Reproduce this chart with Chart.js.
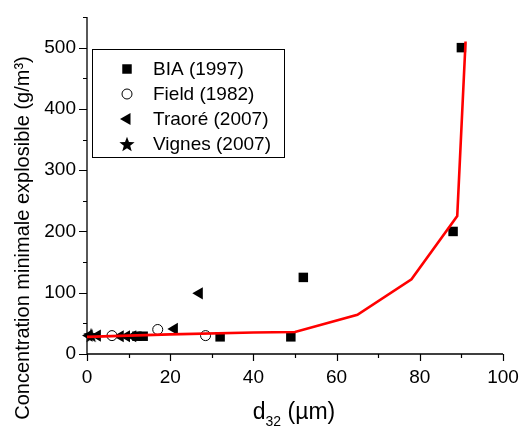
<!DOCTYPE html>
<html>
<head>
<meta charset="utf-8">
<script src="https://cdn.jsdelivr.net/npm/chart.js@4/dist/chart.umd.min.js"></script>
<style>
  html, body { margin: 0; padding: 0; background: #fff; }
  #c { display: block; }
</style>
</head>
<body>
<canvas id="c" width="521" height="432"></canvas>
<script>
"use strict";

// valeurs
const biaX = [12, 13.5, 32, 49, 52, 88, 90];
const biaY = [29, 29, 28, 28, 125, 200, 500];
const fieldX = [6, 17, 28.5];
const fieldY = [30, 40, 30];
const traoreX = [0.5, 2.5, 8, 9.5, 11, 21, 27];
const traoreY = [30, 30, 29, 29, 29, 41, 99];
const vignesX = [1];
const vignesY = [31];
// courbe modèle (rouge)
const modelX = [0, 20, 40, 50, 65, 78, 89, 91];
const modelY = [28, 32, 35, 36, 64, 122, 225, 510];

const seriesNames = ["BIA (1997)", "Field (1982)", "Traoré (2007)", "Vignes (2007)"];
const xTicks = [0, 20, 40, 60, 80, 100];
const yTicks = [0, 100, 200, 300, 400, 500];

const FONT = "'Liberation Sans', Arial, sans-serif";

const pts = (xs, ys) => xs.map((x, i) => ({ x, y: ys[i] }));

// étoile pleine pour Vignes
function makeStar(size) {
  const c = document.createElement("canvas");
  c.width = size; c.height = size;
  const g = c.getContext("2d");
  const cx = size / 2, cy = size / 2 + 0.8;
  const R = size / 2, r = R * 0.42;
  g.beginPath();
  for (let i = 0; i < 10; i++) {
    const rad = i % 2 ? r : R;
    const a = -Math.PI / 2 + (i * Math.PI) / 5;
    g.lineTo(cx + rad * Math.cos(a), cy + rad * Math.sin(a));
  }
  g.closePath();
  g.fillStyle = "#000";
  g.fill();
  return c;
}
const star = makeStar(16);

const markerStyles = [
  { pointStyle: "rect", radius: 6.7, rotation: 0, fill: "#000", stroke: "#000", borderWidth: 0 },
  { pointStyle: "circle", radius: 5, rotation: 0, fill: "#fff", stroke: "#000", borderWidth: 1 },
  { pointStyle: "triangle", radius: 7, rotation: -90, fill: "#000", stroke: "#000", borderWidth: 0 },
  { pointStyle: star, radius: 8, rotation: 0, fill: "#000", stroke: "#000", borderWidth: 0 },
];

function scatterSet(label, data, st) {
  return {
    label,
    data,
    showLine: false,
    pointStyle: st.pointStyle,
    pointRadius: st.radius,
    pointRotation: st.rotation,
    pointBackgroundColor: st.fill,
    pointBorderColor: st.stroke,
    pointBorderWidth: st.borderWidth,
    pointHoverRadius: st.radius,
    clip: false,
  };
}

// axes, graduations, titres et légende dessinés à la main
const decorPlugin = {
  id: "decor",
  beforeDatasetsDraw(chart) {
    const { ctx, chartArea: a, scales: { x, y } } = chart;
    ctx.save();
    ctx.strokeStyle = "#000";
    ctx.lineWidth = 1.3;
    ctx.beginPath();
    ctx.moveTo(a.left, a.top);
    ctx.lineTo(a.left, a.bottom);
    ctx.lineTo(a.right, a.bottom);
    ctx.stroke();

    ctx.lineWidth = 1.2;
    ctx.beginPath();
    for (const t of y.ticks) {
      const py = Math.round(y.getPixelForValue(t.value)) + 0.5;
      const len = t.value % 100 === 0 ? 8 : 4;
      ctx.moveTo(a.left - len, py);
      ctx.lineTo(a.left, py);
    }
    for (const t of x.ticks) {
      const px = Math.round(x.getPixelForValue(t.value)) + 0.5;
      const len = t.value % 20 === 0 ? 7 : 4;
      ctx.moveTo(px, a.bottom);
      ctx.lineTo(px, a.bottom + len);
    }
    ctx.stroke();
    ctx.restore();
  },
  afterDraw(chart) {
    const { ctx } = chart;
    ctx.save();
    ctx.fillStyle = "#000";

    // titre axe Y
    ctx.save();
    ctx.translate(23, 238);
    ctx.rotate(-Math.PI / 2);
    ctx.font = `20px ${FONT}`;
    ctx.textAlign = "center";
    ctx.textBaseline = "middle";
    ctx.fillText("Concentration minimale explosible (g/m³)", 0, 0);
    ctx.restore();

    // titre axe X : d avec indice 32
    ctx.textBaseline = "alphabetic";
    ctx.textAlign = "left";
    const big = `23px ${FONT}`, small = `14px ${FONT}`;
    ctx.font = big;
    const wd = ctx.measureText("d").width;
    const wRest = ctx.measureText(" (µm)").width;
    ctx.font = small;
    const wSub = ctx.measureText("32").width;
    let xx = 294 - (wd + wSub + wRest) / 2;
    const base = 419;
    ctx.font = big;
    ctx.fillText("d", xx, base);
    xx += wd;
    ctx.font = small;
    ctx.fillText("32", xx, base + 7);
    xx += wSub;
    ctx.font = big;
    ctx.fillText(" (µm)", xx, base);

    // légende encadrée
    ctx.strokeStyle = "#000";
    ctx.lineWidth = 1;
    ctx.strokeRect(92.5, 49.5, 192, 108);
    const rowY = [69, 94, 119, 144];
    ctx.font = `19px ${FONT}`;
    ctx.textBaseline = "middle";
    seriesNames.forEach((name, i) => {
      const st = markerStyles[i];
      ctx.fillStyle = st.fill;
      ctx.strokeStyle = st.stroke;
      ctx.lineWidth = st.borderWidth || 1;
      Chart.helpers.drawPoint(ctx, {
        pointStyle: st.pointStyle,
        radius: st.radius,
        rotation: st.rotation,
        borderWidth: st.borderWidth,
      }, 127, rowY[i]);
      ctx.fillStyle = "#000";
      ctx.fillText(name, 153, rowY[i] + 1);
    });
    ctx.restore();
  },
};

new Chart(document.getElementById("c"), {
  type: "scatter",
  data: {
    datasets: [
      {
        label: "modèle",
        data: pts(modelX, modelY),
        showLine: true,
        borderColor: "#ff0000",
        borderWidth: 2.6,
        pointRadius: 0,
        pointHoverRadius: 0,
        tension: 0,
        clip: false,
      },
      scatterSet(seriesNames[0], pts(biaX, biaY), markerStyles[0]),
      scatterSet(seriesNames[1], pts(fieldX, fieldY), markerStyles[1]),
      scatterSet(seriesNames[2], pts(traoreX, traoreY), markerStyles[2]),
      scatterSet(seriesNames[3], pts(vignesX, vignesY), markerStyles[3]),
    ],
  },
  options: {
    responsive: false,
    animation: false,
    devicePixelRatio: 1,
    layout: { padding: { left: 0, top: 17, right: 18, bottom: 0 } },
    plugins: {
      legend: { display: false },
      tooltip: { enabled: false },
    },
    scales: {
      x: {
        type: "linear",
        min: 0,
        max: 100,
        grid: { display: false, drawTicks: false, tickLength: 0 },
        border: { display: false },
        ticks: {
          stepSize: 10,
          autoSkip: false,
          maxRotation: 0,
          padding: 12,
          color: "#000",
          font: { family: FONT, size: 19 },
          callback: (v) => (xTicks.includes(v) ? v : ""),
        },
        afterFit: (s) => { s.height = 78; s.paddingLeft = 0; s.paddingRight = 0; },
      },
      y: {
        type: "linear",
        min: 0,
        max: 550,
        grid: { display: false, drawTicks: false, tickLength: 0 },
        border: { display: false },
        ticks: {
          stepSize: 50,
          autoSkip: false,
          padding: 11,
          color: "#000",
          font: { family: FONT, size: 19 },
          callback: (v) => (yTicks.includes(v) ? v : ""),
        },
        afterFit: (s) => { s.width = 87; s.paddingTop = 0; s.paddingBottom = 0; },
      },
    },
  },
  plugins: [decorPlugin],
});
</script>
</body>
</html>
